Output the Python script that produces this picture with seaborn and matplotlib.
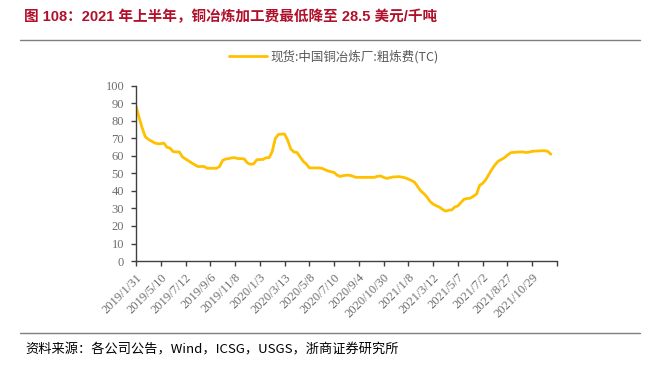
import numpy as np
import pandas as pd
import seaborn as sns
import matplotlib
matplotlib.use("Agg")
import matplotlib.pyplot as plt

sns.set_theme(style="white")
plt.rcParams['font.family'] = ['Liberation Serif', 'Noto Sans CJK SC', 'DejaVu Sans']

title = "图 108：2021 年上半年，铜冶炼加工费最低降至 28.5 美元/千吨"
series_name = "现货:中国铜冶炼厂:粗炼费(TC)"
source = "资料来源：各公司公告，Wind，ICSG，USGS，浙商证券研究所"

tick_labels = ["2019/1/31", "2019/5/10", "2019/7/12", "2019/9/6", "2019/11/8",
               "2020/1/3", "2020/3/13", "2020/5/8", "2020/7/10", "2020/9/4",
               "2020/10/30", "2021/1/8", "2021/3/12", "2021/5/7", "2021/7/2",
               "2021/8/27", "2021/10/29"]

tc_values = [88.6, 82, 76, 71, 69.5, 68.5, 67.5, 67, 67, 67.4,
             65, 64.5, 62.5, 62.3, 62.3, 59.5, 58.3, 57.2, 56, 55,
             54, 54, 54, 53, 53, 53, 53, 54, 57.5, 58.3,
             58.5, 59, 59, 58.5, 58.5, 58.3, 56, 55.3, 55.5, 57.8,
             58, 58, 59, 59, 62.5, 70, 72.3, 72.5, 72.5, 69,
             64, 62.3, 62, 59.5, 57, 55.5, 53.2, 53.2, 53.2, 53.2,
             53, 52.2, 51.5, 51, 50.6, 49, 48.3, 48.8, 49, 49,
             48.5, 47.8, 47.8, 47.8, 47.8, 47.8, 47.8, 47.8, 48.4, 48.6,
             47.8, 47.2, 47.6, 48, 48.1, 48.2, 47.9, 47.5, 46.8, 46,
             45, 42.5, 40, 38.5, 36.5, 34, 32.5, 31.6, 30.8, 29.5,
             28.5, 29, 29.2, 30.9, 31.5, 33.5, 35.3, 35.7, 35.9, 37,
             38.2, 43.2, 44.4, 46.5, 49.5, 52.5, 55, 57, 58, 59,
             60.5, 61.8, 62.1, 62.2, 62.3, 62.3, 62, 62.2, 62.7, 62.8,
             62.9, 63, 63, 62.7, 61]

df = pd.DataFrame({"idx": np.arange(len(tc_values)), "tc": tc_values})

fig = plt.figure(figsize=(6.53, 3.67), dpi=100)
ax = fig.add_axes([136/653, 1-261/367, (557-136)/653, (261-86)/367])

sns.lineplot(data=df, x="idx", y="tc", ax=ax, color="#FFC000", linewidth=2.0,
             label=series_name)

step = 8
ax.set_xlim(0, step * len(tick_labels))
ax.set_ylim(0, 100)
ax.set_yticks(np.arange(0, 101, 10))
ax.set_xticks(np.arange(0, step * len(tick_labels) + 1, step))
ax.set_xticklabels(tick_labels + [""], rotation=45, ha="right", va="top",
                   rotation_mode="anchor")
ax.set_xlabel("")
ax.set_ylabel("")

for s in ["top", "right"]:
    ax.spines[s].set_visible(False)
for s in ["left", "bottom"]:
    ax.spines[s].set_color("#404040")
    ax.spines[s].set_linewidth(1.0)
ax.tick_params(axis="both", which="major", direction="out", length=3.5, width=1.0,
               color="#404040", labelsize=9, labelcolor="#6e6e6e",
               bottom=True, left=True)
ax.tick_params(axis="y", pad=5)
ax.tick_params(axis="x", pad=4, labelsize=9)
ax.grid(False)

leg = ax.legend(loc="center left", bbox_to_anchor=(229/653, 1-57/367),
                bbox_transform=fig.transFigure, frameon=False, fontsize=9,
                handlelength=3.0, handletextpad=0.3, borderaxespad=0, borderpad=0)
for t in leg.get_texts():
    t.set_color("#595959")
    t.set_family(['Noto Sans CJK SC', 'DejaVu Sans'])

fig.text(24/653, 1-17/367, title, fontsize=10.5, fontweight="bold", color="#B0102A",
         ha="left", va="center", family=['Liberation Sans', 'Noto Sans CJK SC', 'DejaVu Sans'])
fig.add_artist(plt.Line2D([20/653, 640/653], [1-40/367, 1-40/367],
                          transform=fig.transFigure, color="#7f7f7f", linewidth=1.0))
fig.add_artist(plt.Line2D([20/653, 640/653], [1-333/367, 1-333/367],
                          transform=fig.transFigure, color="#7f7f7f", linewidth=1.0))
fig.text(25/653, 1-350/367, source, fontsize=9.5, color="#000000",
         ha="left", va="center", family=['Noto Sans CJK SC', 'DejaVu Sans'])

fig.savefig("out.png", dpi=100)
